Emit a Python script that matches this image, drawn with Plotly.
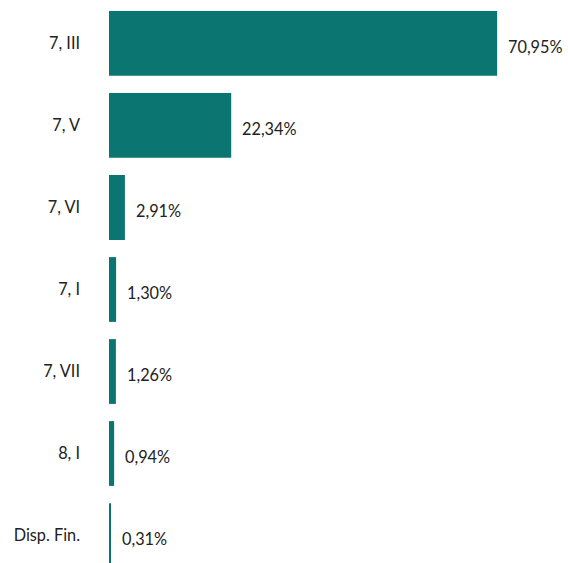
import plotly.graph_objects as go

categories = ["7, III", "7, V", "7, VI", "7, I", "7, VII", "8, I", "Disp. Fin."]
values = [70.95, 22.34, 2.91, 1.30, 1.26, 0.94, 0.31]
value_labels = ["70,95%", "22,34%", "2,91%", "1,30%", "1,26%", "0,94%", "0,31%"]

BAR_COLOR = "#0a7571"
TEXT_COLOR = "#222222"
FONT = "Lato, sans-serif"
FONT_SIZE = 16.3

fig = go.Figure()
fig.add_trace(go.Bar(
    x=values,
    y=categories,
    orientation="h",
    marker=dict(color=BAR_COLOR, line=dict(width=0)),
    width=0.79,
    hoverinfo="skip",
))

for cat, val, lab in zip(categories, values, value_labels):
    fig.add_annotation(
        x=val, y=cat, text=lab, xanchor="left", yanchor="middle",
        xshift=9, yshift=-3, showarrow=False,
        font=dict(family=FONT, size=FONT_SIZE, color=TEXT_COLOR),
    )

fig.update_layout(
    width=568, height=563,
    margin=dict(l=109, r=0, t=0, b=0),
    plot_bgcolor="white", paper_bgcolor="white",
    showlegend=False,
    font=dict(family=FONT, size=FONT_SIZE, color=TEXT_COLOR),
    bargap=0.21,
)
fig.update_xaxes(range=[0, 83.9], visible=False, showgrid=False, zeroline=False)
fig.update_yaxes(
    categoryorder="array", categoryarray=categories,
    range=[6.335, -0.530],
    showgrid=False, zeroline=False, showline=False, ticks="",
    ticklabelstandoff=28,
    tickfont=dict(family=FONT, size=FONT_SIZE, color=TEXT_COLOR),
)

fig.write_html("out.html", config={"displayModeBar": False})
